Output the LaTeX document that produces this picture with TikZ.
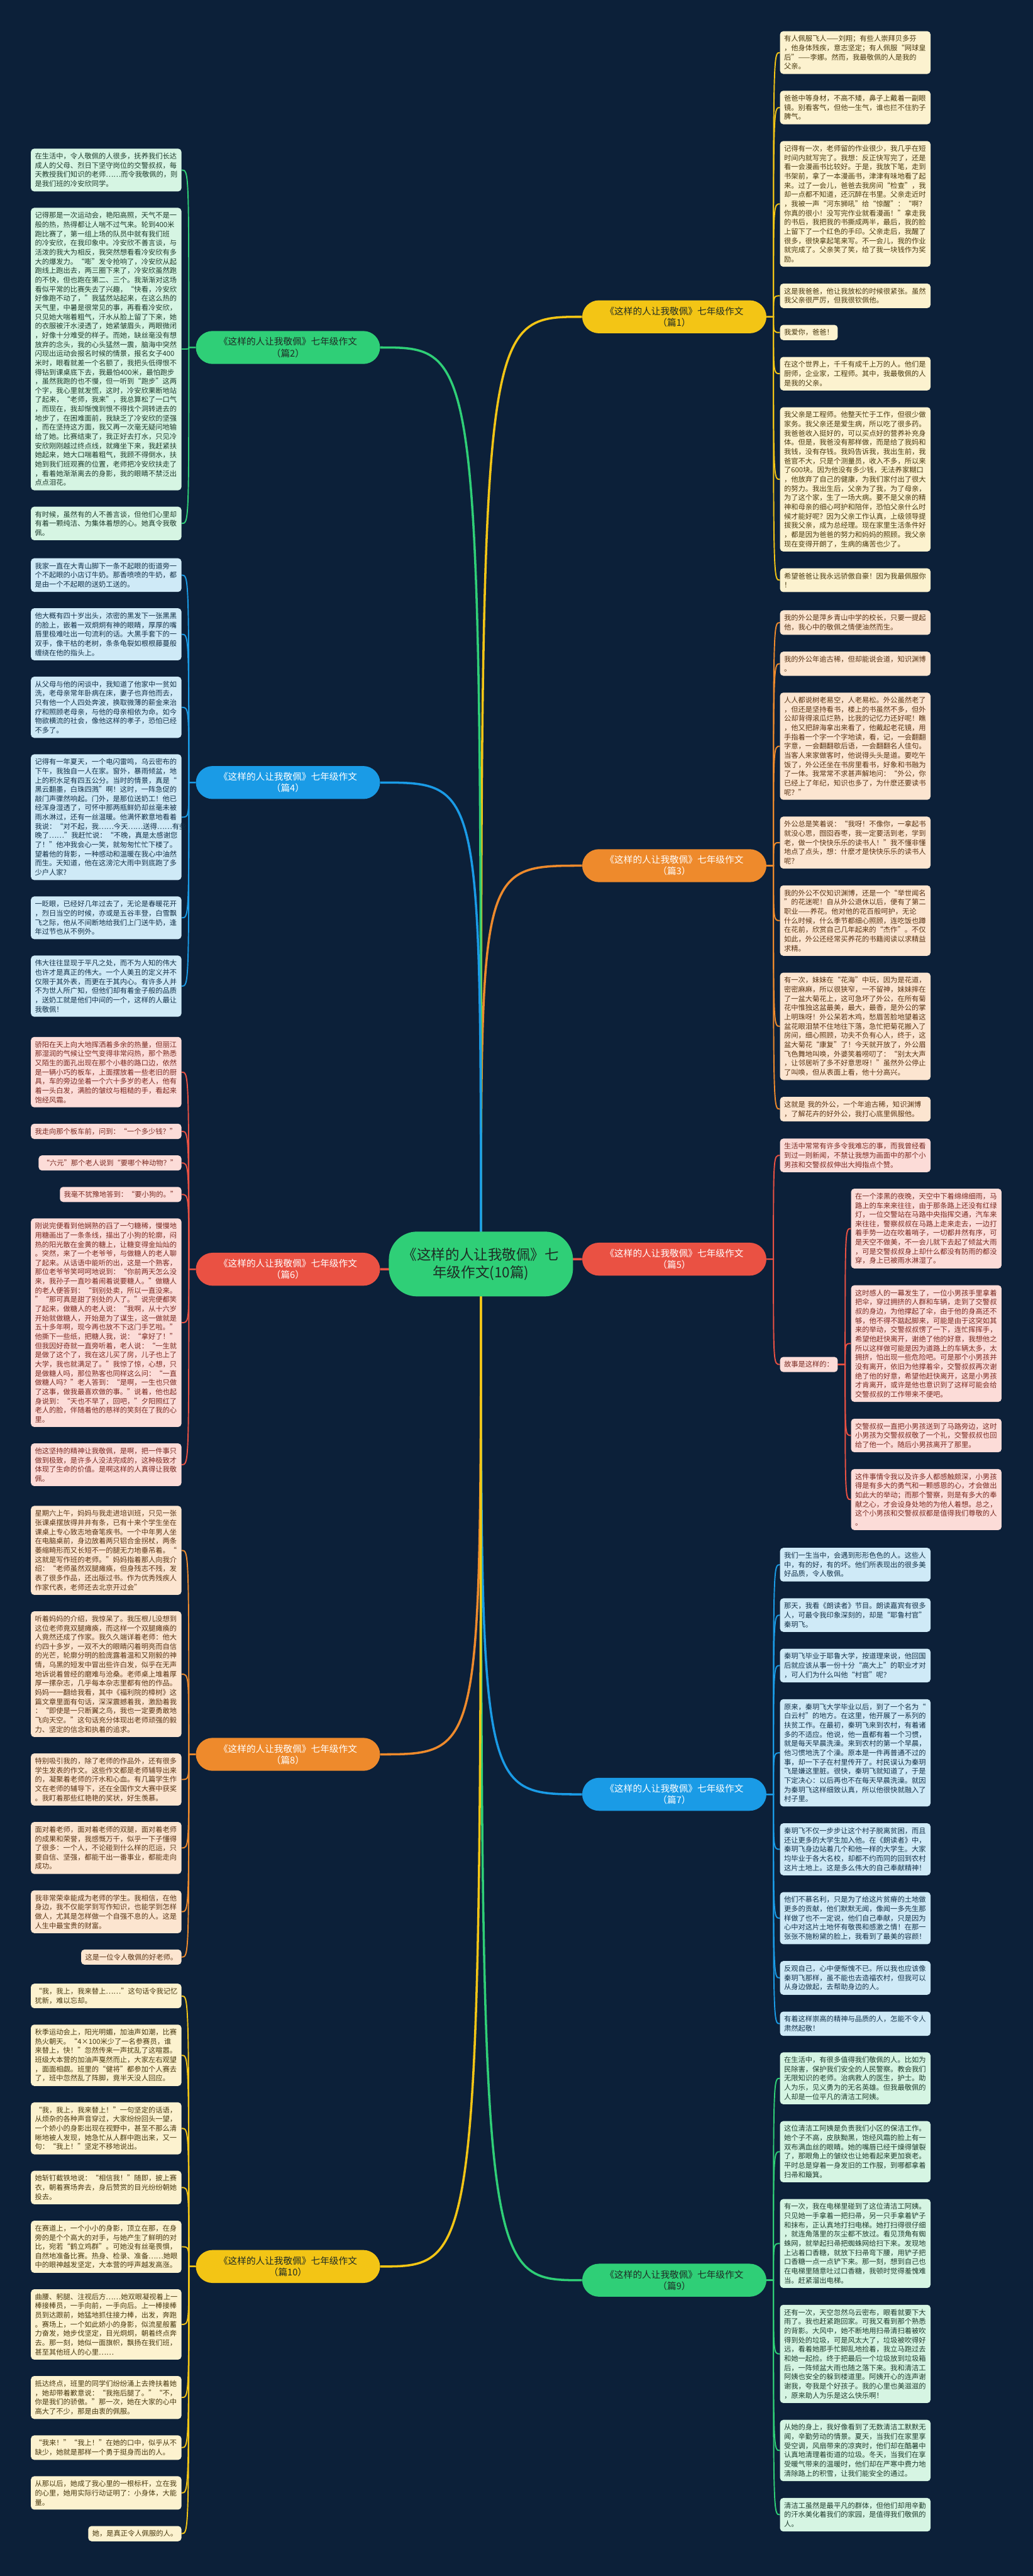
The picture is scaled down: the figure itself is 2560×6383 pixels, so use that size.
\documentclass[tikz,border=0pt]{standalone}
\usepackage{fontspec}
\setmainfont{Noto Sans CJK SC}
\usetikzlibrary{positioning,backgrounds}

\definecolor{bgnavy}{HTML}{0C2039}
\definecolor{cgreen}{HTML}{2FCF77}
\definecolor{cblue}{HTML}{1A9BE6}
\definecolor{cred}{HTML}{EA5143}
\definecolor{corange}{HTML}{EE8A2C}
\definecolor{cyellow}{HTML}{F3C515}
\definecolor{fgreen}{HTML}{D6F5E3}
\definecolor{fblue}{HTML}{CFEAF7}
\definecolor{fred}{HTML}{FCDCD8}
\definecolor{forange}{HTML}{FCE5D0}
\definecolor{fyellow}{HTML}{FCF2CF}
\definecolor{tdark}{HTML}{1E2B25}

\newcommand{\leaffont}{\fontsize{10pt}{13pt}\selectfont}
\newcommand{\topicfont}{\fontsize{13pt}{16pt}\selectfont}
\newcommand{\rootfont}{\fontsize{20pt}{25pt}\selectfont}

\tikzset{
    root/.style={fill=cgreen, text=tdark, rounded corners=14mm, align=center, font=\rootfont, inner xsep=7mm, inner ysep=8mm},
    topic/.style={fill=#1, text=white, rounded corners=8.3mm, align=center, font=\topicfont, inner xsep=11.4mm, inner ysep=3.2mm},
    leaf/.style={rounded corners=1.6mm, align=left, font=\leaffont, inner xsep=2mm, inner ysep=2.1mm},
    gleaf/.style={leaf, fill=fgreen, text=HTML1F3D2E},
    bleaf/.style={leaf, fill=fblue, text=HTML13324A},
    rleaf/.style={leaf, fill=fred, text=HTML7A2A22},
    oleaf/.style={leaf, fill=forange, text=HTML5A3515},
    yleaf/.style={leaf, fill=fyellow, text=HTML4A3A10},
    wide/.style={text width=70.6mm},
    lnext/.style={below=8mm of #1.south east, anchor=north east},
    rnext/.style={below=8.2mm of #1.south west, anchor=north west},
    trunk/.style={draw=#1, line width=1.1mm},
    twig/.style={draw=#1, line width=0.6mm},
}
\definecolor{HTML1F3D2E}{HTML}{1F3D2E}
\definecolor{HTML13324A}{HTML}{13324A}
\definecolor{HTML7A2A22}{HTML}{7A2A22}
\definecolor{HTML5A3515}{HTML}{5A3515}
\definecolor{HTML4A3A10}{HTML}{4A3A10}

\begin{document}
\begin{tikzpicture}[x=0.2mm, y=-0.2mm]
\useasboundingbox (0,0) rectangle (2560,6383);

% root
\node[root] (root) at (1192,3132) {《这样的人让我敬佩》七\\年级作文(10篇)};

% topics, right side
\node[topic=cyellow, text=tdark, anchor=east] (p1) at (1900,785) {《这样的人让我敬佩》七年级作文\\（篇1）};
\node[topic=corange, anchor=east] (p3) at (1900,2145) {《这样的人让我敬佩》七年级作文\\（篇3）};
\node[topic=cred, anchor=east] (p5) at (1900,3120) {《这样的人让我敬佩》七年级作文\\（篇5）};
\node[topic=cblue, anchor=east] (p7) at (1900,4446) {《这样的人让我敬佩》七年级作文\\（篇7）};
\node[topic=cgreen, text=tdark, anchor=east] (p9) at (1900,5650) {《这样的人让我敬佩》七年级作文\\（篇9）};

% topics, left side
\node[topic=cgreen, text=tdark, anchor=west] (p2) at (485,861) {《这样的人让我敬佩》七年级作文\\（篇2）};
\node[topic=cblue, anchor=west] (p4) at (485,1939) {《这样的人让我敬佩》七年级作文\\（篇4）};
\node[topic=cred, anchor=west] (p6) at (485,3145) {《这样的人让我敬佩》七年级作文\\（篇6）};
\node[topic=corange, anchor=west] (p8) at (485,4347) {《这样的人让我敬佩》七年级作文\\（篇8）};
\node[topic=cyellow, text=tdark, anchor=west] (p10) at (485,5616) {《这样的人让我敬佩》七年级作文\\（篇10）};

% 篇2
\node[gleaf, wide, anchor=north east] (p2a) at (450,368) {在生活中，令人敬佩的人很多，抚养我们长达\\成人的父母、烈日下坚守岗位的交警叔叔，每\\天教授我们知识的老师……而令我敬佩的，则\\是我们班的冷安欣同学。};
\node[gleaf, wide, lnext=p2a] (p2b) {记得那是一次运动会，艳阳高照，天气不是一\\般的热，热得都让人喘不过气来。轮到400米\\跑比赛了，第一组上场的队员中就有我们班\\的冷安欣，在我印象中。冷安欣不善言谈，与\\活泼的我大为相反，我突然想看看冷安欣有多\\大的爆发力。“嘭”发令抢响了，冷安欣从起\\跑线上跑出去，两三圈下来了，冷安欣虽然跑\\的不快，但也跑在第二、三个。我渐渐对这场\\看似平常的比赛失去了兴趣，“快看，冷安欣\\好像跑不动了，”我猛然站起来，在这么热的\\天气里，中暑是很常见的事，再看看冷安欣，\\只见她大喘着粗气，汗水从脸上留了下来，她\\的衣服被汗水浸透了，她紧皱眉头，两眼微闭\\，好像十分难受的样子。而她，缺丝毫没有想\\放弃的念头，我的心头猛然一震，脑海中突然\\闪现出运动会报名时候的情景，报名女子400\\米时，眼看就差一个名额了，我把头低得恨不\\得钻到课桌底下去，我最怕400米，最怕跑步\\，虽然我跑的也不慢，但一听到“跑步”这两\\个字，我心里就发慌，这时，冷安欣果断地站\\了起来，“老师，我来”，我总算松了一口气\\，而现在，我却惭愧到恨不得找个洞转进去的\\地步了，在困难面前，我缺乏了冷安欣的坚强\\，而在坚持这方面，我又再一次毫无疑问地输\\给了她。比赛结束了，我正好去打水，只见冷\\安欣刚刚越过终点线，就瘫坐下来，我赶紧扶\\她起来，她大口喘着粗气，我顾不得倒水，扶\\她到我们班观赛的位置，老师把冷安欣扶走了\\，看着她渐渐离去的身影，我的眼睛不禁泛出\\点点泪花。};
\node[gleaf, wide, lnext=p2b] (p2c) {有时候，虽然有的人不善言谈，但他们心里却\\有着一颗纯洁、为集体着想的心。她真令我敬\\佩。};

% 篇4
\node[bleaf, wide, anchor=north east] (p4a) at (450,1383) {我家一直在大青山脚下一条不起眼的街道旁一\\个不起眼的小店订牛奶。那香喷喷的牛奶，都\\是由一个不起眼的送奶工送的。};
\node[bleaf, wide, lnext=p4a] (p4b) {他大概有四十岁出头，浓密的黑发下一张黑黑\\的脸上，嵌着一双炯炯有神的眼睛，厚厚的嘴\\唇里极难吐出一句流利的话。大黑手套下的一\\双手，像干枯的老树，条条龟裂如根根藤蔓般\\缠绕在他的指头上。};
\node[bleaf, wide, lnext=p4b] (p4c) {从父母与他的闲谈中，我知道了他家中一贫如\\洗，老母亲常年卧病在床，妻子也弃他而去，\\只有他一个人四处奔波，换取微薄的薪金来治\\疗和照顾老母亲，与他的母亲相依为命。如今\\物欲横流的社会，像他这样的孝子，恐怕已经\\不多了。};
\node[bleaf, wide, lnext=p4c] (p4d) {记得有一年夏天，一个电闪雷鸣，乌云密布的\\下午，我独自一人在家。窗外，暴雨倾盆，地\\上的积水足有四五公分。当时的情景，真是“\\黑云翻墨，白珠四溅”啊！这时，一阵急促的\\敲门声骤然响起。门外，是那位送奶工！他已\\经浑身湿透了，可怀中那两瓶鲜奶却丝毫未被\\雨水淋过，还有一丝温暖。他满怀歉意地看着\\我说：“对不起，我……今天……送得……有些\\晚了……”我赶忙说：“不晚，真是太感谢您\\了！”他冲我会心一笑，就匆匆忙忙下楼了。\\望着他的背影，一种感动和温暖在我心中油然\\而生。天知道，他在这滂沱大雨中到底跑了多\\少户人家?};
\node[bleaf, wide, lnext=p4d] (p4e) {一眨眼，已经好几年过去了，无论是春暖花开\\，烈日当空的时候，亦或是五谷丰登，白雪飘\\飞之际，他从不间断地给我们上门送牛奶，逢\\年过节也从不例外。};
\node[bleaf, wide, lnext=p4e] (p4f) {伟大往往显现于平凡之处，而不为人知的伟大\\也许才是真正的伟大。一个人美丑的定义并不\\仅限于其外表，而更在于其内心。有许多人并\\不为世人所广知，但他们却有着金子般的品质\\，送奶工就是他们中间的一个，这样的人最让\\我敬佩！};

% 篇6
\node[rleaf, wide, anchor=north east] (p6a) at (450,2569) {骄阳在天上向大地挥洒着多余的热量，但丽江\\那湿润的气候让空气变得非常闷热，那个熟悉\\又陌生的面孔出现在那个小巷的路口边，依然\\是一辆小巧的板车，上面摆放着一些老旧的厨\\具，车的旁边坐着一个六十多岁的老人，他有\\着一头白发，满脸的皱纹与粗糙的手，看起来\\饱经风霜。};
\node[rleaf, wide, lnext=p6a] (p6b) {我走向那个板车前，问到：“一个多少钱？”};
\node[rleaf, lnext=p6b] (p6c) {“六元”那个老人说到“要哪个种动物？”};
\node[rleaf, lnext=p6c] (p6d) {我毫不犹豫地答到：“要小狗的。”};
\node[rleaf, wide, lnext=p6d] (p6e) {刚说完便看到他娴熟的舀了一勺糖稀，慢慢地\\用糖画出了一条条线，描出了小狗的轮廓，闷\\热的阳光散在金黄的糖上，让糖变得金灿灿的\\。突然，来了一个老爷爷，与做糖人的老人聊\\了起来。从话语中能听的出，这是一个熟客，\\那位老爷爷笑呵呵地说到：“你前两天怎么没\\来，我孙子一直吵着闹着说要糖人。”做糖人\\的老人便答到：“到别处卖，所以一直没来。\\”“那可真是甜了别处的人了。”说完便都笑\\了起来，做糖人的老人说：“我啊，从十六岁\\开始就做糖人，开始是为了谋生，这一做就是\\五十多年啊，现今再也放不下这门手艺啦。”\\他撕下一些纸，把糖人我，说：“拿好了！”\\但我因好奇就一直旁听着，老人说：“一生就\\是做了这个了，我在这儿买了房，儿子也上了\\大学，我也就满足了。”我惊了惊，心想，只\\是做糖人吗，那位熟客也同样这么问：“一直\\做糖人吗？”老人答到：“是啊，一生也只做\\了这事，做我最喜欢做的事。”说着，他也起\\身说到：“天也不早了，回吧，”夕阳照红了\\老人的脸，伴随着他的慈祥的笑刻在了我的心\\里。};
\node[rleaf, wide, lnext=p6e] (p6f) {他这坚持的精神让我敬佩，是啊，把一件事只\\做到极致，是许多人没法完成的，这种极致才\\体现了生命的价值。是啊这样的人真得让我敬\\佩。};

% 篇8
\node[oleaf, wide, anchor=north east] (p8a) at (450,3731) {星期六上午，妈妈与我走进培训班，只见一张\\张课桌摆放得井井有条，已有十来个学生坐在\\课桌上专心致志地奋笔疾书。一个中年男人坐\\在电脑桌前，身边放着两只铝合金拐杖，两条\\萎缩畸形而又长短不一的腿无力地垂吊着。“\\这就是写作班的老师。”妈妈指着那人向我介\\绍：“老师虽然双腿瘫痪，但身残志不残，发\\表了很多作品，还出版过书。作为优秀残疾人\\作家代表，老师还去北京开过会”};
\node[oleaf, wide, lnext=p8a] (p8b) {听着妈妈的介绍，我惊呆了。我压根儿没想到\\这位老师竟双腿瘫痪，而这样一个双腿瘫痪的\\人竟然还成了作家。我久久端详着老师：他大\\约四十多岁，一双不大的眼睛闪着明亮而自信\\的光芒，轮廓分明的脸庞露着温和又刚毅的神\\情，乌黑的短发中冒出些许白发，似乎在无声\\地诉说着曾经的磨难与沧桑。老师桌上堆着厚\\厚一摞杂志，几乎每本杂志里都有他的作品。\\妈妈一一翻给我看，其中《福利院的樟树》这\\篇文章里面有句话，深深震撼着我，激励着我\\：“即使是一只断翼之鸟，我也一定要勇敢地\\飞向天空。”这句话充分体现出老师顽强的毅\\力、坚定的信念和执着的追求。};
\node[oleaf, wide, lnext=p8b] (p8c) {特别吸引我的，除了老师的作品外，还有很多\\学生发表的作文。这些作文都是老师辅导出来\\的，凝聚着老师的汗水和心血。有几篇学生作\\文在老师的辅导下，还在全国作文大赛中获奖\\。我盯着那些红艳艳的奖状，好生羡慕。};
\node[oleaf, wide, lnext=p8c] (p8d) {面对着老师，面对着老师的双腿，面对着老师\\的成果和荣誉，我感慨万千，似乎一下子懂得\\了很多：一个人，不论碰到什么样的厄运，只\\要自信、坚强，都能干出一番事业，都能走向\\成功。};
\node[oleaf, wide, lnext=p8d] (p8e) {我非常荣幸能成为老师的学生。我相信，在他\\身边，我不仅能学到写作知识，也能学到怎样\\做人，尤其是怎样做一个自强不息的人。这是\\人生中最宝贵的财富。};
\node[oleaf, lnext=p8e] (p8f) {这是一位令人敬佩的好老师。};

% 篇10
\node[yleaf, wide, anchor=north east] (p10a) at (450,4915) {“我，我上，我来替上……”这句话令我记忆\\犹新，难以忘却。};
\node[yleaf, wide, lnext=p10a] (p10b) {秋季运动会上，阳光明媚，加油声如潮，比赛\\热火朝天。“4×100米少了一名参赛员，谁\\来替上，快！”忽然传来一声扰乱了这喧嚣。\\班级大本营的加油声戛然而止，大家左右观望\\，面面相觑。班里的“健将”都参加个人赛去\\了，班中忽然乱了阵脚，竟半天没人回应。};
\node[yleaf, wide, lnext=p10b] (p10c) {“我，我上，我来替上！”一句坚定的话语，\\从烦杂的各种声音穿过，大家纷纷回头一望，\\一个娇小的身影出现在视野中，甚至不那么清\\晰地被人发现，她急忙从人群中跑出来，又一\\句：“我上！”坚定不移地说出。};
\node[yleaf, wide, lnext=p10c] (p10d) {她斩钉截铁地说：“相信我！”随即，披上赛\\衣，朝着赛场奔去，身后赞赏的目光纷纷朝她\\投去。};
\node[yleaf, wide, lnext=p10d] (p10e) {在赛道上，一个小小的身影，顶立在那，在身\\旁的是个个高大的对手，与她产生了鲜明的对\\比，宛若“鹤立鸡群”。可她没有丝毫畏惧，\\自然地准备比赛。热身、检录、准备……她眼\\中的眼神越发坚定，大本营的呼声越发高涨。};
\node[yleaf, wide, lnext=p10e] (p10f) {曲腰、躬腿、注视后方……她双眼凝视着上一\\棒接棒员，一手向前，一手向后。上一棒接棒\\员到达跟前，她猛地抓住接力棒，出发，奔跑\\。赛场上，一个如此娇小的身影，似流星般蓄\\力奋发，她步伐坚定，目光炯炯，朝着终点奔\\去。那一刻，她似一面旗帜，飘扬在我们班，\\甚至其他班人的心里……};
\node[yleaf, wide, lnext=p10f] (p10g) {抵达终点，班里的同学们纷纷涌上去搀扶着她\\，她却带着歉意说：“我拖后腿了。”“不，\\你是我们的骄傲。”那一次，她在大家的心中\\高大了不少，那是由衷的佩服。};
\node[yleaf, wide, lnext=p10g] (p10h) {“我来！”“我上！”在她的口中，似乎从不\\缺少，她就是那样一个勇于挺身而出的人。};
\node[yleaf, wide, lnext=p10h] (p10i) {从那以后，她成了我心里的一根标杆，立在我\\的心里，她用实际行动证明了：小身体，大能\\量。};
\node[yleaf, lnext=p10i] (p10j) {她，是真正令人佩服的人。};

% 篇1
\node[yleaf, wide, anchor=north west] (p1a) at (1933,77) {有人佩服飞人——刘翔；有些人崇拜贝多芬\\，他身体残疾，意志坚定；有人佩服“网球皇\\后”——李娜。然而，我最敬佩的人是我的\\父亲。};
\node[yleaf, wide, rnext=p1a] (p1b) {爸爸中等身材，不高不矮，鼻子上戴着一副眼\\镜。别看客气，但他一生气，谁也拦不住豹子\\脾气。};
\node[yleaf, wide, rnext=p1b] (p1c) {记得有一次，老师留的作业很少，我几乎在短\\时间内就写完了。我想：反正快写完了，还是\\看一会漫画书比较好。于是，我放下笔，走到\\书架前，拿了一本漫画书，津津有味地看了起\\来。过了一会儿，爸爸去我房间“检查”，我\\却一点都不知道，还沉醉在书里。父亲走近时\\，我被一声“河东狮吼”给“惊醒”：“啊？\\你真的很小！没写完作业就看漫画！”拿走我\\的书后，我把我的书撕成两半，最后，我的脸\\上留下了一个红色的手印。父亲走后，我醒了\\很多，很快拿起笔来写。不一会儿，我的作业\\就完成了。父亲笑了笑，给了我一块钱作为奖\\励。};
\node[yleaf, wide, rnext=p1c] (p1d) {这是我爸爸，他让我放松的时候很紧张。虽然\\我父亲很严厉，但我很钦佩他。};
\node[yleaf, rnext=p1d] (p1e) {我爱你，爸爸！};
\node[yleaf, wide, rnext=p1e] (p1f) {在这个世界上，千千有成千上万的人。他们是\\厨师，企业家，工程师。其中，我最敬佩的人\\是我的父亲。};
\node[yleaf, wide, rnext=p1f] (p1g) {我父亲是工程师。他整天忙于工作，但很少做\\家务。我父亲还是爱生病，所以吃了很多药。\\我爸爸收入挺好的，可以买点好的营养补充身\\体。但是，我爸没有那样做，而是给了我妈和\\我钱，没有存钱。我妈告诉我，我出生前，我\\爸官不大，只是个测量员，收入不多，所以来\\了600块。因为他没有多少钱，无法养家糊口\\，他放弃了自己的健康，为我们家付出了很大\\的努力。我出生后，父亲为了我，为了母亲，\\为了这个家，生了一场大病。要不是父亲的精\\神和母亲的细心呵护和陪伴，恐怕父亲什么时\\候才能好呢？因为父亲工作认真，上级领导提\\拔我父亲，成为总经理。现在家里生活条件好\\，都是因为爸爸的努力和妈妈的照顾。我父亲\\现在变得开朗了，生病的痛苦也少了。};
\node[yleaf, wide, rnext=p1g] (p1h) {希望爸爸让我永远骄傲自豪！因为我最佩服你\\！};

% 篇3
\node[oleaf, wide, anchor=north west] (p3a) at (1933,1512) {我的外公是萍乡青山中学的校长，只要一提起\\他，我心中的敬佩之情便油然而生。};
\node[oleaf, wide, rnext=p3a] (p3b) {我的外公年逾古稀，但却能说会道，知识渊博\\。};
\node[oleaf, wide, rnext=p3b] (p3c) {人人都说树老易空，人老易松。外公虽然老了\\，但还是坚持看书，楼上的书虽然不多，但外\\公却背得滚瓜烂熟，比我的记忆力还好呢！瞧\\，他又把辞海拿出来看了，他戴起老花镜，用\\手指着一个字一个字地读，看，记，一会翻翻\\字意，一会翻翻歇后语，一会翻翻名人佳句。\\当客人来家做客时，他说得头头是道。要吃午\\饭了，外公还坐在书房里看书，好象和书融为\\了一体。我常常不求甚声解地问：“外公，你\\已经上了年纪，知识也多了，为什麽还要读书\\呢？”};
\node[oleaf, wide, rnext=p3c] (p3d) {外公总是笑着说：“我呀！不像你，一拿起书\\就没心思，囫囵吞枣，我一定要活到老，学到\\老，做一个快快乐乐的读书人！”我不懂非懂\\地点了点头，想：什麽才是快快乐乐的读书人\\呢？};
\node[oleaf, wide, rnext=p3d] (p3e) {我的外公不仅知识渊博，还是一个“举世闻名\\”的花迷呢！自从外公退休以后，便有了第二\\职业——养花。他对他的花百般呵护，无论\\什么时候，什么季节都细心照顾，连吃饭也蹲\\在花前，欣赏自己几年起来的“杰作”。不仅\\如此，外公还经常买养花的书籍阅读以求精益\\求精。};
\node[oleaf, wide, rnext=p3e] (p3f) {有一次，妹妹在“花海”中玩，因为是花道，\\密密麻麻，所以很狭窄，一不留神，妹妹摔在\\了一盆大菊花上，这可急坏了外公，在所有菊\\花中惟独这盆最美，最大，最香，是外公的掌\\上明珠呀！外公呆若木鸡，愁眉苦脸地望着这\\盆花眼泪禁不住地往下落，急忙把菊花搬入了\\房间，细心照顾，功夫不负有心人，终于，这\\盆大菊花“康复”了！今天就开放了，外公眉\\飞色舞地叫唤，外婆笑着唠叨了：“别太大声\\，让邻居听了多不好意思呀！”虽然外公停止\\了叫唤，但从表面上看，他十分高兴。};
\node[oleaf, wide, rnext=p3f] (p3g) {这就是 我的外公，一个年逾古稀，知识渊博\\，了解花卉的好外公，我打心底里佩服他。};

% 篇5
\node[rleaf, wide, anchor=north west] (p5a) at (1933,2821) {生活中常常有许多令我难忘的事，而我曾经看\\到过一则新闻，不禁让我想为画面中的那个小\\男孩和交警叔叔伸出大拇指点个赞。};
\node[rleaf, anchor=west] (p5b) at (1933,3381) {故事是这样的：};
\node[rleaf, wide, anchor=north west] (p5c) at (2109,2945) {在一个漆黑的夜晚，天空中下着绵绵细雨，马\\路上的车来来往往，由于那条路上还没有红绿\\灯，一位交警站在马路中央指挥交通，汽车来\\来往往，警察叔叔在马路上走来走去，一边打\\着手势一边在吹着哨子，一切都井然有序，可\\是天空不做美，不一会儿就下去起了倾盆大雨\\，可是交警叔叔身上却什么都没有防雨的都没\\穿，身上已被雨水淋湿了。};
\node[rleaf, wide, rnext=p5c] (p5d) {这时感人的一幕发生了，一位小男孩手里拿着\\把伞，穿过拥挤的人群和车辆，走到了交警叔\\叔的身边，为他撑起了伞，由于他的身高还不\\够，他不得不踮起脚来，可能是由于这突如其\\来的举动，交警叔叔愣了一下，连忙挥挥手，\\希望他赶快离开，谢绝了他的好意，我想他之\\所以这样做可能是因为道路上的车辆太多，太\\拥挤，怕出现一些危险吧。可是那个小男孩并\\没有离开，依旧为他撑着伞，交警叔叔再次谢\\绝了他的好意，希望他赶快离开，这是小男孩\\才肯离开，或许是他也意识到了这样可能会给\\交警叔叔的工作带来不便吧。};
\node[rleaf, wide, rnext=p5d] (p5e) {交警叔叔一直把小男孩送到了马路旁边，这时\\小男孩为交警叔叔敬了一个礼，交警叔叔也回\\给了他一个。随后小男孩离开了那里。};
\node[rleaf, wide, rnext=p5e] (p5f) {这件事情令我以及许多人都感触颇深，小男孩\\得是有多大的勇气和一颗感恩的心，才会做出\\如此大的举动；而那个警察，则是有多大的奉\\献之心，才会设身处地的为他人着想。总之，\\这个小男孩和交警叔叔都是值得我们尊敬的人\\。};

% 篇7
\node[bleaf, wide, anchor=north west] (p7a) at (1933,3835) {我们一生当中，会遇到形形色色的人。这些人\\中，有的好，有的坏。他们所表现出的很多美\\好品质，令人敬佩。};
\node[bleaf, wide, rnext=p7a] (p7b) {那天，我看《朗读者》节目。朗读嘉宾有很多\\人，可最令我印象深刻的，却是“耶鲁村官”\\秦玥飞。};
\node[bleaf, wide, rnext=p7b] (p7c) {秦玥飞毕业于耶鲁大学，按道理来说，他回国\\后就应该从事一份十分“高大上”的职业才对\\，可人们为什么叫他“村官”呢？};
\node[bleaf, wide, rnext=p7c] (p7d) {原来，秦玥飞大学毕业以后，到了一个名为“\\白云村”的地方。在这里，他开展了一系列的\\扶贫工作。在最初，秦玥飞来到农村，有着诸\\多的不适应。他说，他一直都有着一个习惯，\\就是每天早晨洗澡。来到农村的第一个早晨，\\他习惯地洗了个澡。原本是一件再普通不过的\\事，却一下子在村里传开了。村民误认为秦玥\\飞是嫌这里脏。很快，秦玥飞就知道了，于是\\下定决心：以后再也不在每天早晨洗澡。就因\\为秦玥飞这样细致认真，所以他很快就融入了\\村子里。};
\node[bleaf, wide, rnext=p7d] (p7e) {秦玥飞不仅一步步让这个村子脱离贫困，而且\\还让更多的大学生加入他。在《朗读者》中，\\秦玥飞身边站着几个和他一样的大学生。大家\\均毕业于各大名校，却都不约而同的回到农村\\这片土地上。这是多么伟大的自己奉献精神！};
\node[bleaf, wide, rnext=p7e] (p7f) {他们不慕名利，只是为了给这片贫瘠的土地做\\更多的贡献，他们默默无闻，像闻一多先生那\\样做了也不一定说，他们自己奉献，只是因为\\心中对这片土地怀有敬畏和感激之情！在那一\\张张不施粉黛的脸上，我看到了最美的容颜！};
\node[bleaf, wide, rnext=p7f] (p7g) {反观自己，心中便惭愧不已。所以我也应该像\\秦玥飞那样，虽不能也去造福农村，但我可以\\从身边做起，去帮助身边的人。};
\node[bleaf, wide, rnext=p7g] (p7h) {有着这样崇高的精神与品质的人，怎能不令人\\肃然起敬！};

% 篇9
\node[gleaf, wide, anchor=north west] (p9a) at (1933,5085) {在生活中，有很多值得我们敬佩的人。比如为\\民除害，保护我们安全的人民警察。教会我们\\无限知识的老师。治病救人的医生，护士。助\\人为乐，见义勇为的无名英雄。但我最敬佩的\\人却是一位平凡的清洁工阿姨。};
\node[gleaf, wide, rnext=p9a] (p9b) {这位清洁工阿姨是负责我们小区的保洁工作。\\她个子不高，皮肤黝黑，饱经风霜的脸上有一\\双布满血丝的眼睛。她的嘴唇已经干燥得皱裂\\了，那眼角上的皱纹也让她看起来更加衰老。\\平时总是穿着一身发旧的工作服，到哪都拿着\\扫帚和簸箕。};
\node[gleaf, wide, rnext=p9b] (p9c) {有一次，我在电梯里碰到了这位清洁工阿姨。\\只见她一手拿着一把扫帚，另一只手拿着铲子\\和抹布，正认真地打扫电梯。她打扫得很仔细\\，就连角落里的灰尘都不放过。看见顶角有蜘\\蛛网，就举起扫帚把蜘蛛网给扫下来。发现地\\上沾着口香糖，就放下扫帚弯下腰，用铲子把\\口香糖一点一点铲下来。那一刻，想到自己也\\在电梯里随意吐过口香糖，我顿时觉得羞愧难\\当。赶紧溜出电梯。};
\node[gleaf, wide, rnext=p9c] (p9d) {还有一次，天空忽然乌云密布，眼看就要下大\\雨了。我也赶紧跑回家。可我又看到那个熟悉\\的背影。大风中，她不断地用扫帚清扫着被吹\\得到处的垃圾，可是风太大了，垃圾被吹得好\\远，看着她那手忙脚乱地捡着，我立马跑过去\\和她一起捡。终于把最后一个垃圾放到垃圾箱\\后，一阵倾盆大雨也随之落下来。我和清洁工\\阿姨也安全的躲到楼道里。阿姨开心的连声谢\\谢我，夸我是个好孩子。我的心里也美滋滋的\\，原来助人为乐是这么快乐啊！};
\node[gleaf, wide, rnext=p9d] (p9e) {从她的身上，我好像看到了无数清洁工默默无\\闻，辛勤劳动的情景。夏天，当我们在家里享\\受空调，风扇带来的凉爽时，他们却在酷暑中\\认真地清理着街道的垃圾。冬天，当我们在享\\受暖气带来的温暖时，他们却在严寒中费力地\\清除路上的积雪，让我们能安全的通过。};
\node[gleaf, wide, rnext=p9e] (p9f) {清洁工虽然是最平凡的群体，但他们却用辛勤\\的汗水美化着我们的家园，是值得我们敬佩的\\人。};

% connectors
\begin{scope}[on background layer]
\fill[bgnavy] (0,0) rectangle (2560,6383);
\foreach \p/\col in {p1/cyellow, p3/corange, p5/cred, p7/cblue, p9/cgreen}
    \draw[trunk=\col] (root.center) .. controls (root.center |- \p.west) .. (\p.west);
\foreach \p/\col in {p2/cgreen, p4/cblue, p6/cred, p8/corange, p10/cyellow}
    \draw[trunk=\col] (root.center) .. controls (root.center |- \p.east) .. (\p.east);
\foreach \p in {p1,p3,p5,p7,p9}
    \path (\p.east) ++(17,0) coordinate (\p-s);
\foreach \p in {p2,p4,p6,p8,p10}
    \path (\p.west) ++(-17,0) coordinate (\p-s);
\path (p5b.east) ++(18,0) coordinate (p5b-s);
\foreach \p/\col/\kids in {p1/cyellow/{p1a,p1b,p1c,p1d,p1e,p1f,p1g,p1h},
        p3/corange/{p3a,p3b,p3c,p3d,p3e,p3f,p3g},
        p5/cred/{p5a,p5b},
        p5b/cred/{p5c,p5d,p5e,p5f},
        p7/cblue/{p7a,p7b,p7c,p7d,p7e,p7f,p7g,p7h},
        p9/cgreen/{p9a,p9b,p9c,p9d,p9e,p9f}}
    \foreach \c in \kids
        \draw[twig=\col] (\p.east) -- (\p-s) .. controls (\p-s |- \c.west) .. (\c.west);
\foreach \p/\col/\kids in {p2/cgreen/{p2a,p2b,p2c},
        p4/cblue/{p4a,p4b,p4c,p4d,p4e,p4f},
        p6/cred/{p6a,p6b,p6c,p6d,p6e,p6f},
        p8/corange/{p8a,p8b,p8c,p8d,p8e,p8f},
        p10/cyellow/{p10a,p10b,p10c,p10d,p10e,p10f,p10g,p10h,p10i,p10j}}
    \foreach \c in \kids
        \draw[twig=\col] (\p.west) -- (\p-s) .. controls (\p-s |- \c.east) .. (\c.east);
\end{scope}
\end{tikzpicture}
\end{document}
